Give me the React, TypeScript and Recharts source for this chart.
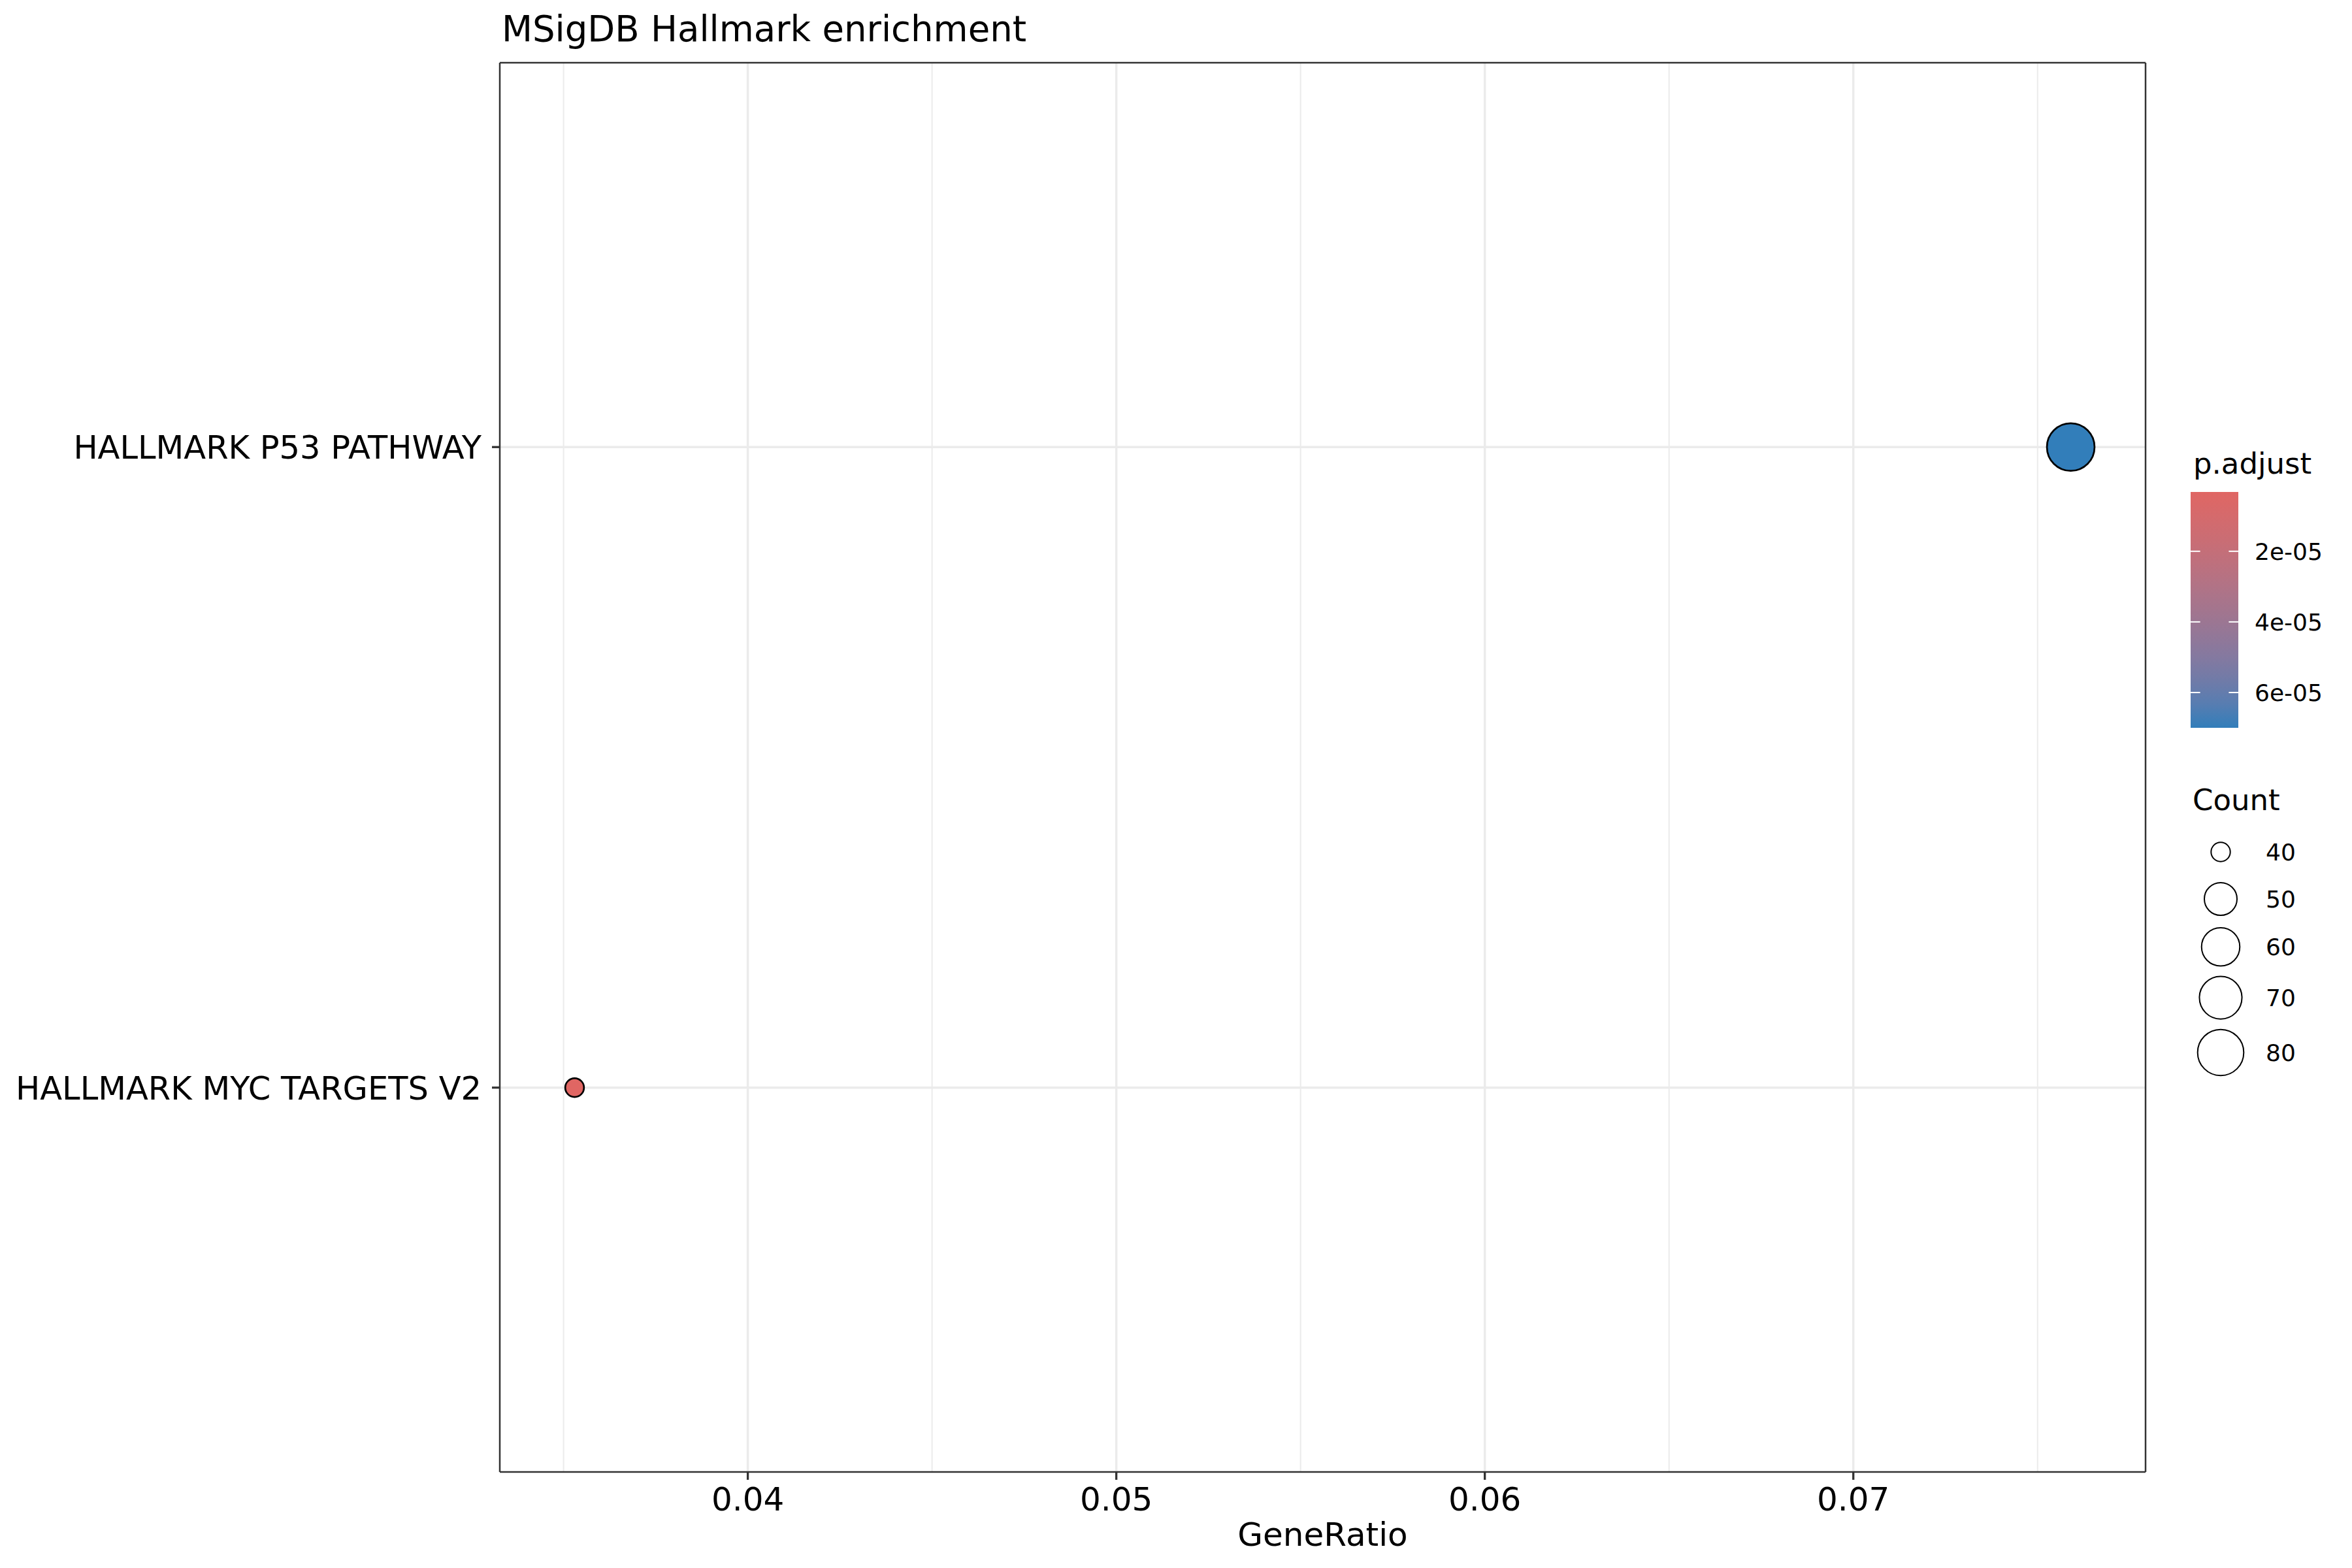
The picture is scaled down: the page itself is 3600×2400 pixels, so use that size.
import {
  Customized,
  ReferenceLine,
  Scatter,
  ScatterChart,
  XAxis,
  YAxis,
} from "recharts";

// enrichment results
const terms = ["HALLMARK MYC TARGETS V2", "HALLMARK P53 PATHWAY"];
const geneRatios = [0.0353, 0.0759];
const counts = [40, 86];
const pAdjust = [3.2e-6, 7.0e-5];

// axis + legend breaks
const xTicks = [0.04, 0.05, 0.06, 0.07];
const xMinorTicks = [0.035, 0.045, 0.055, 0.065, 0.075];
const colorBreaks = [2e-5, 4e-5, 6e-5];
const countBreaks = [40, 50, 60, 70, 80];

const FONT = "DejaVu Sans";
const LOW_COLOR = "#e06663";
const HIGH_COLOR = "#327eba";
const GRID = "#ebebeb";
const BORDER = "#333333";

const rows = terms.map((term, i) => ({
  term,
  pos: i + 1,
  ratio: geneRatios[i],
  count: counts[i],
  p: pAdjust[i],
}));

// ggplot-like 5% expansion of the continuous axis
const xLo = Math.min(...geneRatios);
const xHi = Math.max(...geneRatios);
const xPad = (xHi - xLo) * 0.05;
const xDomain = [xLo - xPad, xHi + xPad];
const yDomain = [0.4, terms.length + 0.6];

// size scale (area-ish, outer radius in px)
const cMin = Math.min(...counts);
const cMax = Math.max(...counts);
const R_MIN = 15.7;
const R_MAX = 37.8;
const sizeScale = (c: number) =>
  R_MIN + (R_MAX - R_MIN) * Math.sqrt(Math.max(0, (c - cMin) / (cMax - cMin)));

// colour scale, interpolated in Lab like scales::seq_gradient_pal
const pMin = Math.min(...pAdjust);
const pMax = Math.max(...pAdjust);

const toLin = (c: number) => {
  const v = c / 255;
  return v <= 0.04045 ? v / 12.92 : ((v + 0.055) / 1.055) ** 2.4;
};
const fromLin = (c: number) => {
  const v = c <= 0.0031308 ? 12.92 * c : 1.055 * c ** (1 / 2.4) - 0.055;
  return Math.round(Math.min(1, Math.max(0, v)) * 255);
};
const hexToLab = (hex: string) => {
  const r = toLin(parseInt(hex.slice(1, 3), 16));
  const g = toLin(parseInt(hex.slice(3, 5), 16));
  const b = toLin(parseInt(hex.slice(5, 7), 16));
  const X = (0.4124 * r + 0.3576 * g + 0.1805 * b) / 0.95047;
  const Y = 0.2126 * r + 0.7152 * g + 0.0722 * b;
  const Z = (0.0193 * r + 0.1192 * g + 0.9505 * b) / 1.08883;
  const f = (t: number) => (t > 0.008856 ? Math.cbrt(t) : 7.787 * t + 16 / 116);
  return [116 * f(Y) - 16, 500 * (f(X) - f(Y)), 200 * (f(Y) - f(Z))];
};
const labToHex = ([L, a, b]: number[]) => {
  const fy = (L + 16) / 116;
  const fx = fy + a / 500;
  const fz = fy - b / 200;
  const inv = (t: number) => (t ** 3 > 0.008856 ? t ** 3 : (t - 16 / 116) / 7.787);
  const X = 0.95047 * inv(fx);
  const Y = inv(fy);
  const Z = 1.08883 * inv(fz);
  const r = fromLin(3.2406 * X - 1.5372 * Y - 0.4986 * Z);
  const g = fromLin(-0.9689 * X + 1.8758 * Y + 0.0415 * Z);
  const bl = fromLin(0.0557 * X - 0.204 * Y + 1.057 * Z);
  return "#" + [r, g, bl].map((v) => v.toString(16).padStart(2, "0")).join("");
};
const lowLab = hexToLab(LOW_COLOR);
const highLab = hexToLab(HIGH_COLOR);
const mix = (t: number) => labToHex(lowLab.map((v, i) => v + (highLab[i] - v) * t));
const colorScale = (p: number) => mix((p - pMin) / (pMax - pMin));

const fmtExp = (v: number) => {
  const [m, e] = v.toExponential(0).split("e");
  const n = Number(e);
  return `${m}e${n < 0 ? "-" : "+"}${String(Math.abs(n)).padStart(2, "0")}`;
};

// layout
const W = 3600;
const H = 2400;
const PLOT = { left: 765, right: 3284, top: 96, bottom: 2253 };
const X_AXIS_H = 60;
const Y_AXIS_W = 60;

function XTick({ x, y, payload }: any) {
  return (
    <text x={x} y={y} dy={45} textAnchor="middle" fontFamily={FONT} fontSize={50} fill="#000">
      {Number(payload.value).toFixed(2)}
    </text>
  );
}

function YTick({ x, y, payload }: any) {
  const label = terms[Math.round(payload.value) - 1] ?? "";
  return (
    <text x={x} y={y} dx={-14} dy={18} textAnchor="end" fontFamily={FONT} fontSize={49.5} fill="#000">
      {label}
    </text>
  );
}

function Dot({ cx, cy, payload }: any) {
  const r = sizeScale(payload.count);
  return (
    <circle
      cx={cx}
      cy={cy}
      r={r - 1.35}
      fill={colorScale(payload.p)}
      stroke="#000"
      strokeWidth={2.7}
    />
  );
}

function Extras() {
  const barX = 3353;
  const barY = 753;
  const barW = 73;
  const barH = 361;
  const stops = Array.from({ length: 11 }, (_, i) => i / 10);

  let y = 1268;
  const keys = countBreaks.map((c) => {
    const r = sizeScale(c);
    const h = Math.max(72, 2 * r + 14);
    const cy = y + h / 2;
    y += h;
    return { c, r, cy };
  });

  return (
    <g>
      <text x={768} y={63} fontFamily={FONT} fontSize={54.5} fill="#000">
        MSigDB Hallmark enrichment
      </text>
      <text
        x={(PLOT.left + PLOT.right) / 2}
        y={2366}
        textAnchor="middle"
        fontFamily={FONT}
        fontSize={50}
        fill="#000"
      >
        GeneRatio
      </text>

      {/* colour bar */}
      <defs>
        <linearGradient id="padj" x1="0" y1="0" x2="0" y2="1">
          {stops.map((t) => (
            <stop key={t} offset={t} stopColor={mix(t)} />
          ))}
        </linearGradient>
      </defs>
      <text x={3357} y={725} fontFamily={FONT} fontSize={45} fill="#000">
        p.adjust
      </text>
      <rect x={barX} y={barY} width={barW} height={barH} fill="url(#padj)" />
      {colorBreaks.map((b) => {
        const ty = barY + ((b - pMin) / (pMax - pMin)) * barH;
        return (
          <g key={b}>
            <line x1={barX} x2={barX + barW / 5} y1={ty} y2={ty} stroke="#fff" strokeWidth={2} />
            <line x1={barX + barW * 0.8} x2={barX + barW} y1={ty} y2={ty} stroke="#fff" strokeWidth={2} />
            <text x={3451} y={ty + 13} fontFamily={FONT} fontSize={36} fill="#000">
              {fmtExp(b)}
            </text>
          </g>
        );
      })}

      {/* size legend */}
      <text x={3356} y={1240} fontFamily={FONT} fontSize={45} fill="#000">
        Count
      </text>
      {keys.map((k) => (
        <g key={k.c}>
          <circle cx={3399} cy={k.cy} r={k.r - 1} fill="none" stroke="#000" strokeWidth={2} />
          <text x={3468} y={k.cy + 13} fontFamily={FONT} fontSize={36} fill="#000">
            {k.c}
          </text>
        </g>
      ))}
    </g>
  );
}

export default function App() {
  return (
    <div style={{ width: W, height: H, background: "#fff" }}>
      <style>{"body{margin:0;background:#fff}"}</style>
      <ScatterChart
        width={W}
        height={H}
        margin={{
          top: PLOT.top,
          left: PLOT.left - Y_AXIS_W,
          right: W - PLOT.right,
          bottom: H - PLOT.bottom - X_AXIS_H,
        }}
      >
        <XAxis
          type="number"
          dataKey="ratio"
          domain={xDomain}
          ticks={xTicks}
          allowDataOverflow
          height={X_AXIS_H}
          axisLine={false}
          tickSize={12}
          tickLine={{ stroke: BORDER, strokeWidth: 3.3 }}
          tick={<XTick />}
          interval={0}
        />
        <YAxis
          type="number"
          dataKey="pos"
          domain={yDomain}
          ticks={rows.map((r) => r.pos)}
          allowDataOverflow
          width={Y_AXIS_W}
          axisLine={false}
          tickSize={12}
          tickLine={{ stroke: BORDER, strokeWidth: 3.3 }}
          tick={<YTick />}
          interval={0}
        />
        {xMinorTicks.map((v) => (
          <ReferenceLine key={`mx${v}`} x={v} stroke={GRID} strokeWidth={2} />
        ))}
        {xTicks.map((v) => (
          <ReferenceLine key={`x${v}`} x={v} stroke={GRID} strokeWidth={3.5} />
        ))}
        {rows.map((r) => (
          <ReferenceLine key={`y${r.pos}`} y={r.pos} stroke={GRID} strokeWidth={3.5} />
        ))}
        <ReferenceLine x={xDomain[0]} stroke={BORDER} strokeWidth={2.5} />
        <ReferenceLine x={xDomain[1]} stroke={BORDER} strokeWidth={2.5} />
        <ReferenceLine y={yDomain[0]} stroke={BORDER} strokeWidth={2.5} />
        <ReferenceLine y={yDomain[1]} stroke={BORDER} strokeWidth={2.5} />
        <Scatter data={rows} shape={<Dot />} isAnimationActive={false} />
        <Customized component={Extras} />
      </ScatterChart>
    </div>
  );
}
